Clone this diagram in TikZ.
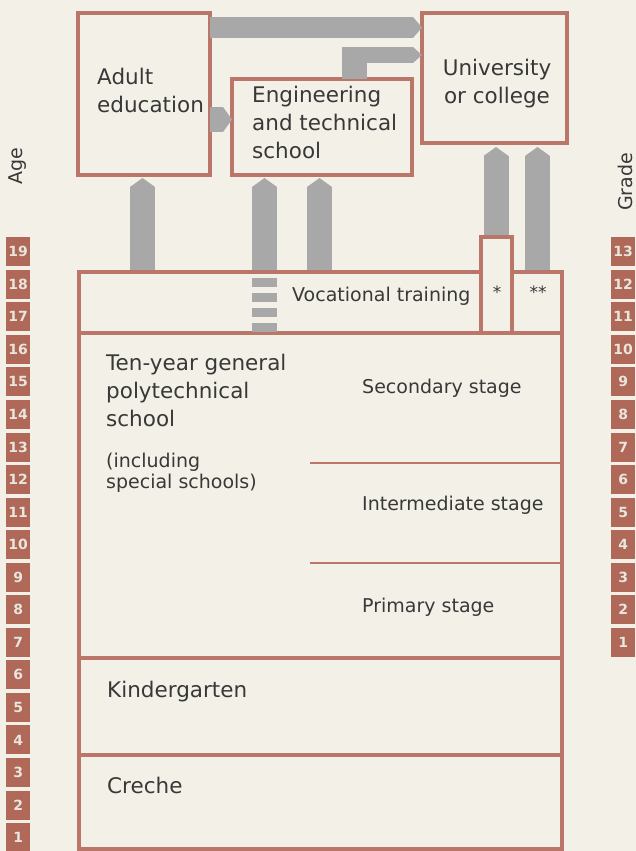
\documentclass[tikz,border=0pt]{standalone}
\usepackage{fontspec}
\setmainfont{DejaVu Sans}
\usetikzlibrary{arrows.meta}
\definecolor{paper}{RGB}{243,241,231}
\definecolor{brick}{RGB}{186,118,104}
\definecolor{agefill}{RGB}{176,104,88}
\definecolor{arrowgray}{RGB}{168,168,168}
\newcommand{\bigtext}{\fontsize{21.5}{28}\selectfont}
\newcommand{\smalltext}{\fontsize{19}{21}\selectfont}
\tikzset{
  box/.style={draw=brick, line width=3.2pt, fill=paper, inner sep=0pt,
    outer sep=0pt, anchor=north west},
  txt/.style={inner sep=0pt, anchor=base west, align=left, text=black!78},
  fatarrow/.style={draw=arrowgray, line width=#1,
    -{Triangle[width=#1, length=9pt, line width=0pt]}},
  numbox/.style={fill=agefill, text=paper!90!gray, minimum width=24pt,
    minimum height=29pt, inner sep=0pt, anchor=north west,
    font=\bfseries\fontsize{14}{14}\selectfont},
}

\begin{document}
\begin{tikzpicture}[x=1pt, y=-1pt]
    \fill[paper] (0,0) rectangle (636,851);
    \useasboundingbox (0,0) rectangle (636,851);

    % feet of the block arrows
    \coordinate (f1) at (142.5,272);
    \coordinate (f2) at (264.5,272);
    \coordinate (f3) at (319.5,272);
    \coordinate (f4) at (496,237);
    \coordinate (f5) at (537.5,272);
    \coordinate (d2) at (264.5,278);

    % boxes (empty, to get the anchors for the arrows)
    \node[box, minimum width=132pt, minimum height=162pt] (adult) at (78,13) {};
    \node[box, minimum width=180pt, minimum height=96pt] (engin) at (232,79) {};
    \node[box, minimum width=145pt, minimum height=130pt] (univ) at (422,13) {};

    \draw[fatarrow=21pt] (adult.east |- 0,27.5) -- (univ.west |- 0,27.5);
    \fill[arrowgray] (342,47) rectangle (367,79);
    \draw[fatarrow=16pt] (342,55) -- (univ.west |- 342,55);
    \draw[fatarrow=25pt] (adult.east |- 0,119.5) -- (engin.west |- 0,119.5);

    \draw[fatarrow=25pt, shorten >=3pt] (f1) -- (f1 |- adult.south);
    \draw[fatarrow=25pt, shorten >=3pt] (f2) -- (f2 |- engin.south);
    \draw[fatarrow=25pt, shorten >=3pt] (f3) -- (f3 |- engin.south);
    \draw[fatarrow=25pt, shorten >=4pt] (f4) -- (f4 |- univ.south);
    \draw[fatarrow=25pt, shorten >=4pt] (f5) -- (f5 |- univ.south);

    \node[box, minimum width=483pt, minimum height=61pt] (voc) at (79,272) {};
    \node[box, minimum width=31pt, minimum height=96pt] (star) at (481,237) {};
    \node[box, minimum width=483pt, minimum height=325pt] (poly) at (79,333) {};
    \node[box, minimum width=483pt, minimum height=97pt] (kinder) at (79,658) {};
    \node[box, minimum width=483pt, minimum height=94pt] (creche) at (79,755) {};

    \draw[arrowgray, line width=25pt, dash pattern=on 9pt off 6pt]
      (d2) -- (d2 |- voc.south);

    % stages
    \coordinate (sec) at (310,463);
    \coordinate (mid) at (310,563);
    \draw[brick, line width=2pt] (sec) -- (sec -| poly.east);
    \draw[brick, line width=2pt] (mid) -- (mid -| poly.east);

    % texts (base = last line)
    \node[txt, font=\bigtext] (adulttxt) at (97,112) {Adult\\education};
    \node[txt, font=\bigtext] (engintxt) at (252,158)
      {Engineering\\and technical\\school};
    \node[txt, font=\bigtext, align=center, anchor=base] (univtxt) at (497,103)
      {University\\or college};
    \node[txt, font=\smalltext] (voctxt) at (292,301) {Vocational training};
    \node[font=\fontsize{17}{17}\selectfont, text=black!78] (startxt) at (497,292) {*};
    \node[font=\fontsize{17}{17}\selectfont, text=black!78] (dstartxt) at (538,292) {**};
    \node[txt, font=\bigtext] (polytxt) at (106,426)
      {Ten-year general\\polytechnical\\school};
    \node[txt, font=\smalltext] (specialtxt) at (106,488)
      {(including\\special schools)};
    \node[txt, font=\smalltext] (sectxt) at (362,393) {Secondary stage};
    \node[txt, font=\smalltext] (midtxt) at (362,510) {Intermediate stage};
    \node[txt, font=\smalltext] (primtxt) at (362,612) {Primary stage};
    \node[txt, font=\bigtext] (kindertxt) at (107,697) {Kindergarten};
    \node[txt, font=\bigtext] (crechetxt) at (107,793) {Creche};

    % age and grade scales
    \node[rotate=90, font=\smalltext, text=black!78] (agelbl) at (18,166) {Age};
    \node[rotate=90, font=\smalltext, text=black!78] (gradelbl) at (625,182) {Grade};
    \foreach \a in {1,...,19}
      \node[numbox] (age\a) at (6,{237+(19-\a)*32.55}) {\a};
    \foreach \g in {1,...,13}
      \node[numbox] (grade\g) at (611,{237+(13-\g)*32.55}) {\g};

\end{tikzpicture}
\end{document}
